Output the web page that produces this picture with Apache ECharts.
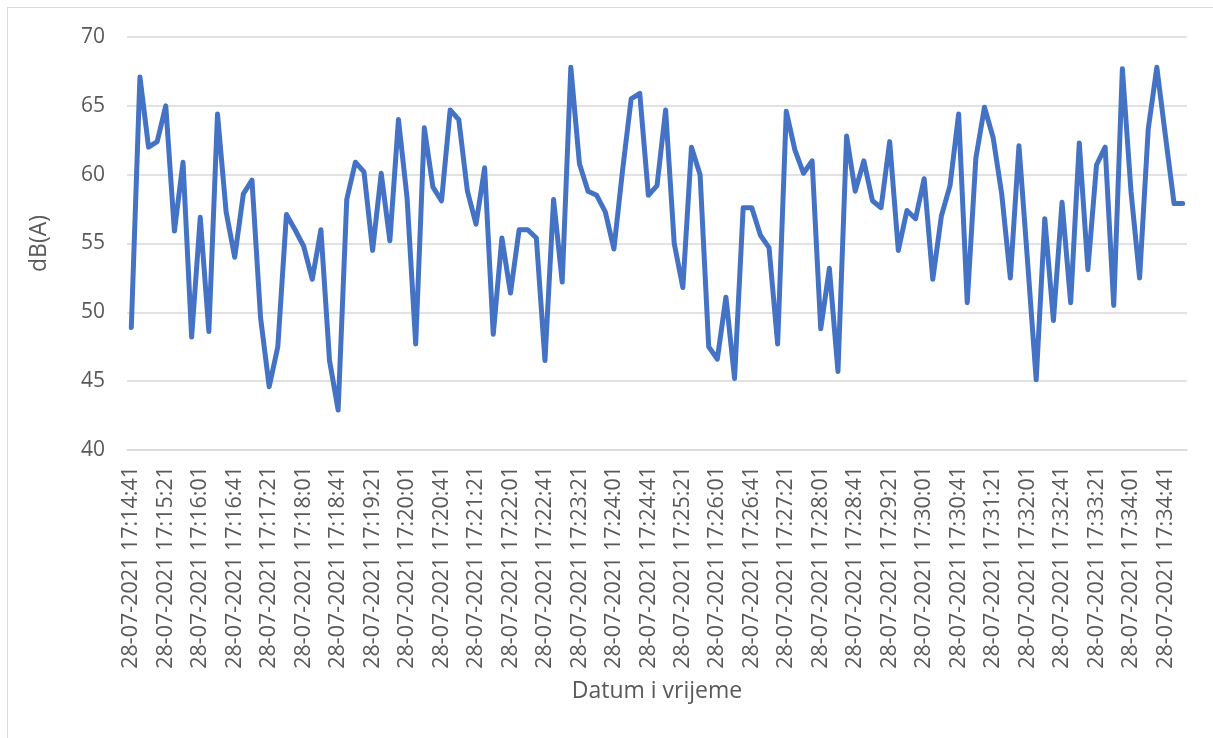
<!DOCTYPE html>
<html>
<head>
<meta charset="utf-8">
<title>dB(A)</title>
<script src="https://cdn.jsdelivr.net/npm/echarts@6/dist/echarts.min.js"></script>
<style>
  html, body { margin: 0; padding: 0; background: #fff; }
  #frame { position: absolute; left: 7px; top: 7px; width: 1220px; height: 760px; border: 1px solid #d9d9d9; box-sizing: border-box; }
  #chart { width: 1213px; height: 738px; }
</style>
</head>
<body>
<div id="frame"></div>
<div id="chart"></div>
<script>
// measurement date + times (every 10 s)
const dateStr = '28-07-2021'
const times = [
  '17:14:41', '17:14:51', '17:15:01', '17:15:11', '17:15:21', '17:15:31', '17:15:41', '17:15:51',
  '17:16:01', '17:16:11', '17:16:21', '17:16:31', '17:16:41', '17:16:51', '17:17:01', '17:17:11',
  '17:17:21', '17:17:31', '17:17:41', '17:17:51', '17:18:01', '17:18:11', '17:18:21', '17:18:31',
  '17:18:41', '17:18:51', '17:19:01', '17:19:11', '17:19:21', '17:19:31', '17:19:41', '17:19:51',
  '17:20:01', '17:20:11', '17:20:21', '17:20:31', '17:20:41', '17:20:51', '17:21:01', '17:21:11',
  '17:21:21', '17:21:31', '17:21:41', '17:21:51', '17:22:01', '17:22:11', '17:22:21', '17:22:31',
  '17:22:41', '17:22:51', '17:23:01', '17:23:11', '17:23:21', '17:23:31', '17:23:41', '17:23:51',
  '17:24:01', '17:24:11', '17:24:21', '17:24:31', '17:24:41', '17:24:51', '17:25:01', '17:25:11',
  '17:25:21', '17:25:31', '17:25:41', '17:25:51', '17:26:01', '17:26:11', '17:26:21', '17:26:31',
  '17:26:41', '17:26:51', '17:27:01', '17:27:11', '17:27:21', '17:27:31', '17:27:41', '17:27:51',
  '17:28:01', '17:28:11', '17:28:21', '17:28:31', '17:28:41', '17:28:51', '17:29:01', '17:29:11',
  '17:29:21', '17:29:31', '17:29:41', '17:29:51', '17:30:01', '17:30:11', '17:30:21', '17:30:31',
  '17:30:41', '17:30:51', '17:31:01', '17:31:11', '17:31:21', '17:31:31', '17:31:41', '17:31:51',
  '17:32:01', '17:32:11', '17:32:21', '17:32:31', '17:32:41', '17:32:51', '17:33:01', '17:33:11',
  '17:33:21', '17:33:31', '17:33:41', '17:33:51', '17:34:01', '17:34:11', '17:34:21', '17:34:31',
  '17:34:41', '17:34:51', '17:35:01'
]

// noise level dB(A)
const levels = [
  48.9, 67.1, 62.0, 62.4, 65.0, 55.9, 60.9, 48.2, 56.9, 48.6,
  64.4, 57.3, 54.0, 58.6, 59.6, 49.6, 44.6, 47.5, 57.1, 56.0,
  54.8, 52.4, 56.0, 46.5, 42.9, 58.2, 60.9, 60.2, 54.5, 60.1,
  55.2, 64.0, 58.3, 47.7, 63.4, 59.1, 58.1, 64.7, 64.0, 58.8,
  56.4, 60.5, 48.4, 55.4, 51.4, 56.0, 56.0, 55.4, 46.5, 58.2,
  52.2, 67.8, 60.8, 58.8, 58.5, 57.3, 54.6, 60.3, 65.5, 65.9,
  58.5, 59.2, 64.7, 55.0, 51.8, 62.0, 60.0, 47.5, 46.6, 51.1,
  45.2, 57.6, 57.6, 55.6, 54.7, 47.7, 64.6, 61.8, 60.1, 61.0,
  48.8, 53.2, 45.7, 62.8, 58.8, 61.0, 58.1, 57.6, 62.4, 54.5,
  57.4, 56.8, 59.7, 52.4, 57.0, 59.2, 64.4, 50.7, 61.2, 64.9,
  62.7, 58.6, 52.5, 62.1, 53.7, 45.1, 56.8, 49.4, 58.0, 50.7,
  62.3, 53.1, 60.7, 62.0, 50.5, 67.7, 58.8, 52.5, 63.3, 67.8,
  62.8, 57.9, 57.9
]

const categories = times.map(t => dateStr + ' ' + t)

const chart = echarts.init(document.getElementById('chart'))
const font = "'Open Sans', 'Noto Sans', sans-serif"

chart.setOption({
  animation: false,
  grid: {
    left: 127,
    right: 26,
    top: 37,
    bottom: 288
  },
  xAxis: {
    type: 'category',
    data: categories,
    boundaryGap: true,
    name: 'Datum i vrijeme',
    nameLocation: 'middle',
    nameGap: 230,
    nameTextStyle: { color: '#595959', fontSize: 23, fontFamily: font },
    axisLine: { lineStyle: { color: '#d9d9d9', width: 1.5 } },
    axisTick: { show: false },
    axisLabel: {
      interval: 3,
      rotate: 90,
      margin: 16,
      color: '#595959',
      fontSize: 21.5,
      fontFamily: font
    }
  },
  yAxis: {
    type: 'value',
    min: 40,
    max: 70,
    interval: 5,
    name: 'dB(A)',
    nameLocation: 'middle',
    nameGap: 76,
    nameTextStyle: { color: '#595959', fontSize: 23, fontFamily: font },
    axisLine: { show: false },
    axisTick: { show: false },
    axisLabel: { color: '#595959', fontSize: 21, margin: 22, fontFamily: font },
    splitLine: { lineStyle: { color: '#d9d9d9', width: 1.5 } }
  },
  series: [
    {
      type: 'line',
      data: levels,
      showSymbol: false,
      lineStyle: { color: '#4472c4', width: 5, cap: 'round', join: 'round' },
      itemStyle: { color: '#4472c4' }
    }
  ]
})
</script>
</body>
</html>
